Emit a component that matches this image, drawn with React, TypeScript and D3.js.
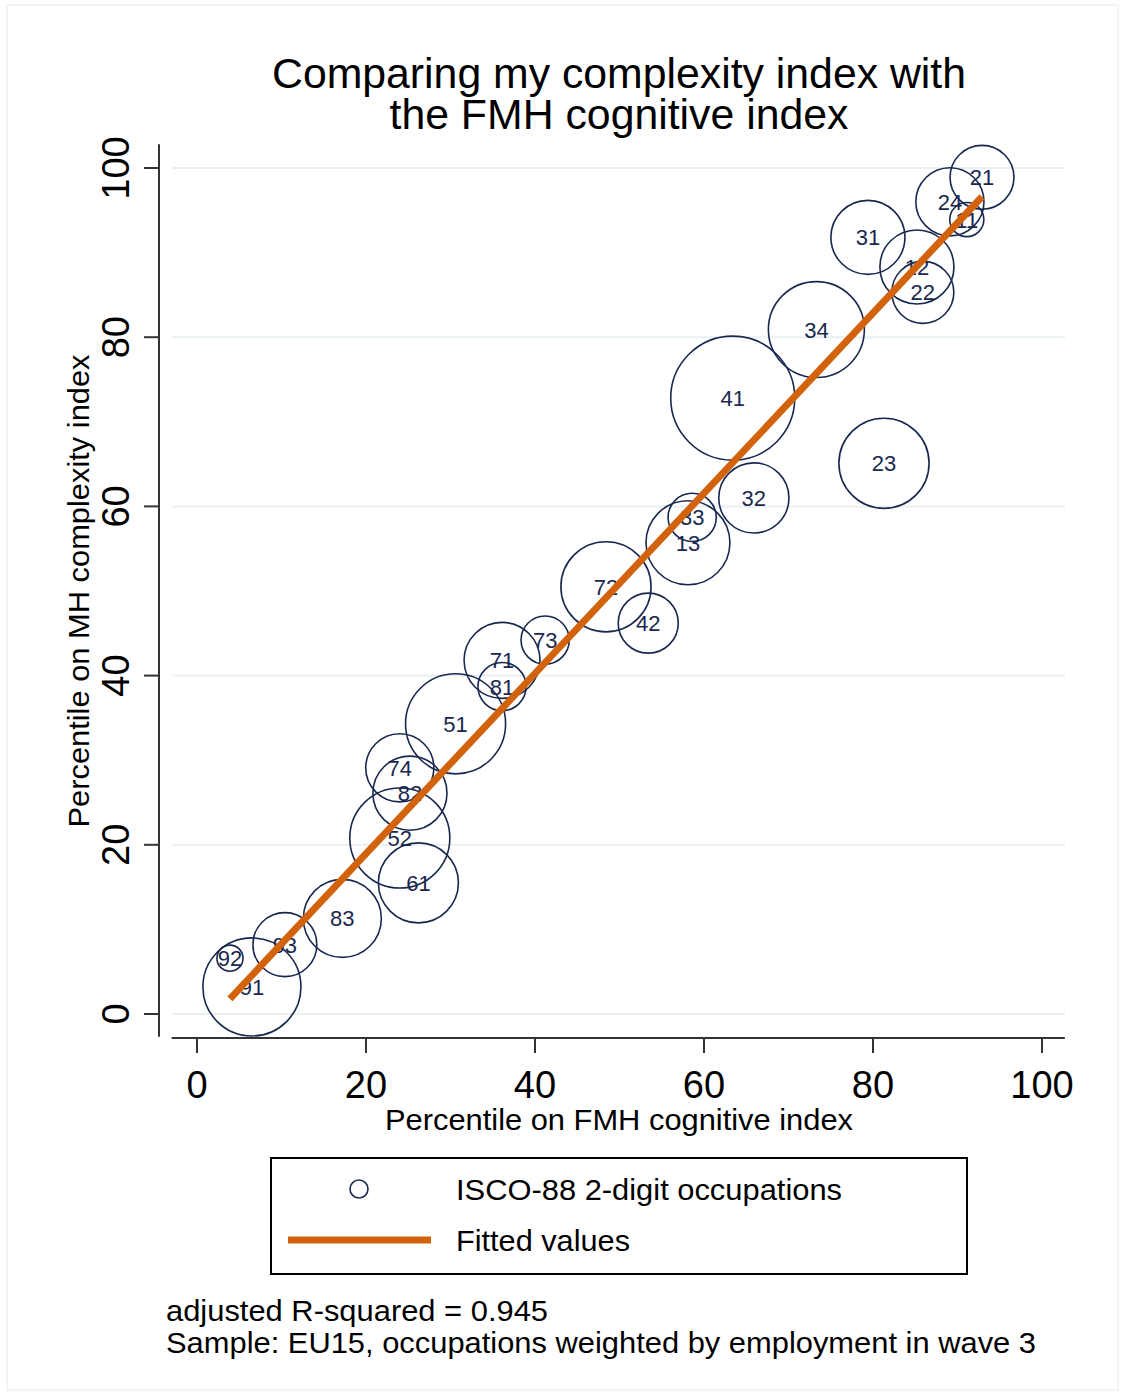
import React from "react";
import * as d3 from "d3";

const labels = ["21","24","11","31","12","22","34","41","23","32","33","13","72","42","73","71","81","51","74","82","52","61","83","93","92","91"];
const fmh = [92.9,89.1,91.1,79.4,85.2,85.9,73.3,63.4,81.3,65.9,58.6,58.1,48.4,53.4,41.2,36.1,36.1,30.6,24.0,25.2,24.0,26.2,17.2,10.4,3.9,6.5];
const mh = [98.9,96.0,93.9,91.8,88.3,85.3,80.9,72.8,65.1,61.0,58.7,55.7,50.5,46.2,44.2,41.8,38.7,34.3,29.1,26.1,20.8,15.5,11.3,8.2,6.6,3.2];
const weights = [10.2,11.6,2.9,13.7,13.7,9.6,23.0,38.4,20.3,12.3,5.8,17.6,20.3,9.0,5.8,14.4,5.8,25.0,11.6,13.7,25.0,16.0,15.2,10.2,1.7,24.0];
const fitX = [3.9, 92.9];
const fitY = [1.8, 96.6];
const ticks = [0, 20, 40, 60, 80, 100];

const NAVY = "#1a2850";
const ORANGE = "#d2620c";
const FONT = "'Liberation Sans', Arial, sans-serif";

export default function App() {
  const x = d3.scaleLinear().domain([0, 100]).range([197, 1042]);
  const y = d3.scaleLinear().domain([0, 100]).range([1014, 168]);
  const r = d3.scaleSqrt().domain([0, 38.4]).range([0, 62]);
  const xAxisY = 1038;
  const yAxisX = 159;
  const line = d3.line<number>().x((d) => x(fitX[d])).y((d) => y(fitY[d]));
  const adj = "spacingAndGlyphs";

  return (
    <svg width={1122} height={1395} style={{ position: "absolute", left: 0, top: 0, background: "#fff" }} fontFamily={FONT}>
      <rect x={7} y={5} width={1111} height={1385} fill="#fff" stroke="#eef2f2" strokeWidth={1.5} />
      <text x={619} y={88} textAnchor="middle" fontSize={42} fill="#000" textLength={694} lengthAdjust={adj}>Comparing my complexity index with</text>
      <text x={619} y={129} textAnchor="middle" fontSize={42} fill="#000" textLength={459} lengthAdjust={adj}>the FMH cognitive index</text>

      {ticks.map((t) => (
        <line key={"g" + t} x1={172} x2={1065} y1={y(t)} y2={y(t)} stroke="#e8f0f2" strokeWidth={2} />
      ))}

      {/* y axis */}
      <line x1={yAxisX} x2={yAxisX} y1={y(102.8)} y2={y(-2.7)} stroke="#333" strokeWidth={2} />
      {ticks.map((t) => (
        <g key={"yt" + t}>
          <line x1={yAxisX - 15} x2={yAxisX} y1={y(t)} y2={y(t)} stroke="#333" strokeWidth={2} />
          <text transform={`translate(129,${y(t)}) rotate(-90)`} textAnchor="middle" fontSize={38} fill="#000">{t}</text>
        </g>
      ))}
      <text transform={`translate(89,591) rotate(-90)`} textAnchor="middle" fontSize={29} fill="#000" textLength={473} lengthAdjust={adj}>Percentile on MH complexity index</text>

      {/* x axis */}
      <line x1={x(-3)} x2={x(102.7)} y1={xAxisY} y2={xAxisY} stroke="#333" strokeWidth={2} />
      {ticks.map((t) => (
        <g key={"xt" + t}>
          <line x1={x(t)} x2={x(t)} y1={xAxisY} y2={xAxisY + 15} stroke="#333" strokeWidth={2} />
          <text x={x(t)} y={1098} textAnchor="middle" fontSize={38} fill="#000">{t}</text>
        </g>
      ))}
      <text x={619} y={1130} textAnchor="middle" fontSize={29} fill="#000" textLength={468} lengthAdjust={adj}>Percentile on FMH cognitive index</text>

      {labels.map((lab, i) => (
        <g key={lab}>
          <circle cx={x(fmh[i])} cy={y(mh[i])} r={r(weights[i])} fill="none" stroke={NAVY} strokeWidth={1.6} />
          <text x={x(fmh[i])} y={y(mh[i]) + 8} textAnchor="middle" fontSize={22} fill={NAVY}>{lab}</text>
        </g>
      ))}

      <path d={line([0, 1]) || ""} stroke={ORANGE} strokeWidth={7} fill="none" />

      {/* legend */}
      <rect x={271} y={1158} width={696} height={116} fill="none" stroke="#000" strokeWidth={2} />
      <circle cx={359} cy={1189} r={9} fill="none" stroke={NAVY} strokeWidth={1.6} />
      <text x={456} y={1200} fontSize={29} fill="#000" textLength={386} lengthAdjust={adj}>ISCO-88 2-digit occupations</text>
      <line x1={288} x2={431} y1={1240} y2={1240} stroke={ORANGE} strokeWidth={7} />
      <text x={456} y={1251} fontSize={29} fill="#000" textLength={174} lengthAdjust={adj}>Fitted values</text>

      <text x={166} y={1321} fontSize={29} fill="#000" textLength={382} lengthAdjust={adj}>adjusted R-squared = 0.945</text>
      <text x={166} y={1353} fontSize={29} fill="#000" textLength={870} lengthAdjust={adj}>Sample: EU15, occupations weighted by employment in wave 3</text>
    </svg>
  );
}
